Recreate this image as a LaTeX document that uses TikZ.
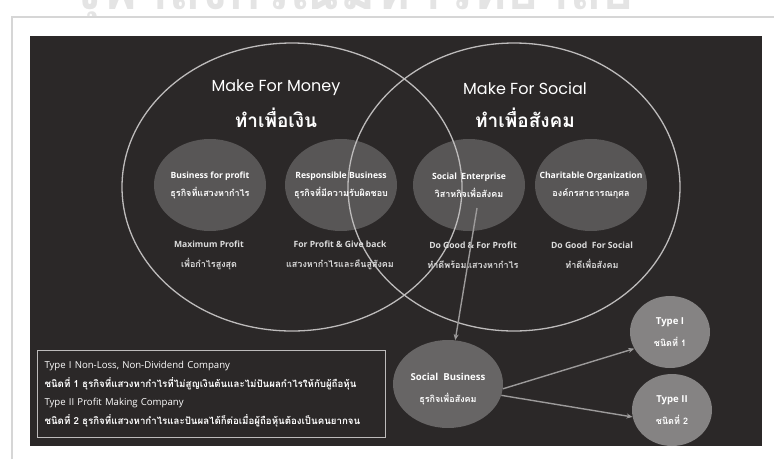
\documentclass[tikz,border=0pt]{standalone}
\usepackage{fontspec}
\setmainfont{Open Sans}
\newfontfamily\thaifont[Script=Thai]{Loma}
\newfontfamily\titlefont{Poppins}
\usetikzlibrary{shapes.geometric, arrows.meta}

\definecolor{panel}{HTML}{2B2828}
\definecolor{ringgray}{HTML}{BDBBBB}
\definecolor{blobgray}{HTML}{585656}
\definecolor{sbgray}{HTML}{676565}
\definecolor{typegray}{HTML}{858383}
\definecolor{capgray}{HTML}{DCDCDC}
\definecolor{arrowgray}{HTML}{9C9A9A}
\definecolor{framegray}{HTML}{D6D6D6}
\definecolor{markgray}{HTML}{E4E4E4}

\newcommand{\thline}[1]{{\thaifont\bfseries\fontsize{9}{18}\selectfont #1}}

\begin{document}
\begin{tikzpicture}[x=1pt, y=-1pt]
    \tikzset{
        big_ring/.style={draw=ringgray, line width=1.3pt},
        blob/.style={ellipse, fill=blobgray, minimum width=112pt, minimum height=92pt, inner sep=0pt},
        sb_blob/.style={ellipse, fill=sbgray, minimum width=110pt, minimum height=88pt, inner sep=0pt},
        type_blob/.style={ellipse, fill=typegray, minimum width=80pt, minimum height=72pt, inner sep=0pt},
        title_en/.style={text=white, font=\titlefont\fontsize{16}{18}\selectfont},
        title_th/.style={text=white, font=\thaifont\bfseries\fontsize{19}{21}\selectfont},
        in_text/.style={text=white, align=center, font=\bfseries\fontsize{8.6}{18}\selectfont},
        caption/.style={text=capgray, align=center, font=\bfseries\fontsize{8.6}{20}\selectfont},
        big_text/.style={text=white, align=center, font=\bfseries\fontsize{9.6}{22}\selectfont},
        note_box/.style={draw=ringgray, line width=1pt, minimum width=348pt, minimum height=87pt,
            text width=334pt, inner xsep=7pt, align=left, text=white, font=\fontsize{9.6}{18.7}\selectfont},
        arr/.style={draw=arrowgray, line width=1.4pt, -{Stealth[length=6pt, width=5pt]}},
        watermark/.style={text=markgray, font=\thaifont\bfseries\fontsize{54}{58}\selectfont}
    }
    \useasboundingbox (0,0) rectangle (774,459);
    \begin{scope}
        \clip (0,0) rectangle (774,459);
        % faint heading and photo frame
        \node[watermark, anchor=base] (mark) at (352,9) {จุฬาลงกรณ์มหาวิทยาลัย};
        \fill[white] (0,17) rectangle (774,459);
        \draw[framegray, line width=1.5pt] (12,459) -- (12,17) -- (774,17);
        \fill[panel] (30,36) rectangle (762,446);

        % inner ellipses
        \node[blob] (bp) at (210,185) {};
        \node[blob] (rb) at (341,185) {};
        \node[blob] (se) at (469,185) {};
        \node[blob] (co) at (591,185) {};
        \node[sb_blob] (sb) at (448,384) {};
        \node[type_blob] (t1) at (670,332) {};
        \node[type_blob] (t2) at (672,410) {};

        % the two big rings
        \draw[big_ring] (292,187) ellipse (170 and 144);
        \draw[big_ring] (514,187) ellipse (166 and 144);

        \node[title_en] (money) at (276,88) {Make For Money};
        \node[title_th] (money_th) at (276,118) {ทำเพื่อเงิน};
        \node[title_en] (social) at (525,88) {Make For Social};
        \node[title_th] (social_th) at (525,118) {ทำเพื่อสังคม};

        \node[in_text] at (bp) {Business for profit\\\thline{ธุรกิจที่แสวงหากำไร}};
        \node[in_text] at (rb) {Responsible Business\\\thline{ธุรกิจที่มีความรับผิดชอบ}};
        \node[in_text] at (se) {Social\ \ Enterprise\\\thline{วิสาหกิจเพื่อสังคม}};
        \node[in_text] at (co) {Charitable Organization\\\thline{องค์กรสาธารณกุศล}};

        \node[caption] (bp_cap) at (209,255) {Maximum Profit\\\thline{เพื่อกำไรสูงสุด}};
        \node[caption] (rb_cap) at (340,255) {For Profit \& Give back\\\thline{แสวงหากำไรและคืนสู่สังคม}};
        \node[caption] (se_cap) at (473,255) {Do Good \& For Profit\\\thline{ทำดีพร้อมแสวงหากำไร}};
        \node[caption] (co_cap) at (592,255) {Do Good\ \ For Social\\\thline{ทำดีเพื่อสังคม}};

        \node[big_text] at (448,389) {Social\ \ Business\\\thline{ธุรกิจเพื่อสังคม}};
        \node[big_text] at (670,332) {Type I\\\thline{ชนิดที่ 1}};
        \node[big_text] at (672,410) {Type II\\\thline{ชนิดที่ 2}};

        \node[note_box, anchor=north west] (note) at (37,350) {Type I Non-Loss, Non-Dividend Company\\
            {\thaifont\bfseries\fontsize{9.7}{18.7}\selectfont ชนิดที่ 1 ธุรกิจที่แสวงหากำไรที่ไม่สูญเงินต้นและไม่ปันผลกำไรให้กับผู้ถือหุ้น}\\
            Type II Profit Making Company\\
            {\thaifont\bfseries\fontsize{9.7}{18.7}\selectfont ชนิดที่ 2 ธุรกิจที่แสวงหากำไรและปันผลได้ก็ต่อเมื่อผู้ถือหุ้นต้องเป็นคนยากจน}};

        \coordinate (se_tail) at (477,208);
        \path (se_tail) edge[arr] (sb);
        \path (sb.-5) edge[arr] (t1.205);
        \path (sb.-12) edge[arr] (t2.190);
    \end{scope}
\end{tikzpicture}
\end{document}
